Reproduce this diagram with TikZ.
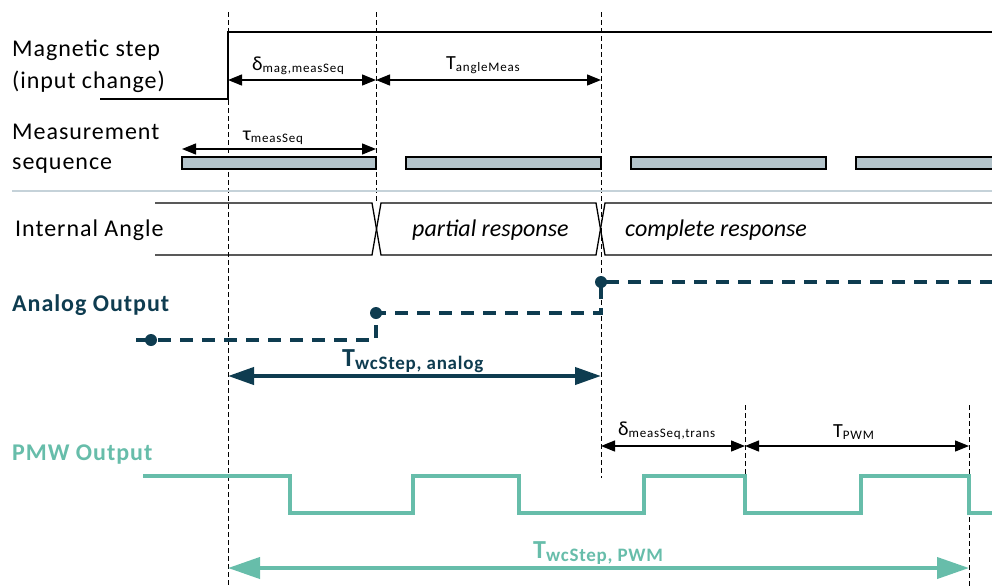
\documentclass[tikz,border=0pt]{standalone}
\usepackage{fontspec}
\setmainfont{Carlito}
\usetikzlibrary{arrows.meta}
\definecolor{analogcol}{RGB}{14,60,80}
\definecolor{pwmcol}{RGB}{103,189,170}
\definecolor{barcol}{RGB}{180,196,203}
\definecolor{sepcol}{RGB}{197,210,217}
\newcommand{\lowidx}[1]{\raisebox{-0.3ex}{\fontsize{13}{13}\selectfont\addfontfeatures{LetterSpace=6}#1}}
\newcommand{\boldidx}[1]{\raisebox{-0.3ex}{\fontsize{19}{19}\selectfont\bfseries\addfontfeatures{LetterSpace=4}#1}}
\tikzset{
  marker/.style={dash pattern=on 5pt off 3pt, line width=0.9pt},
  span/.style={{Triangle[length=14pt,width=11pt]}-{Triangle[length=14pt,width=11pt]}, line width=1.3pt},
  lbl/.style={anchor=base west, inner sep=0pt, font=\fontsize{24}{24}\selectfont\addfontfeatures{LetterSpace=4}},
  spanlbl/.style={anchor=base west, inner sep=0pt, font=\fontsize{20}{20}\selectfont},
  seqbar/.style={draw, fill=barcol, line width=1.3pt},
  analogline/.style={analogcol, line width=3.3pt, dash pattern=on 13pt off 9pt},
  analogdot/.style={circle, fill=analogcol, inner sep=0pt, minimum size=12pt},
  pwmline/.style={pwmcol, line width=3.3pt}
}
\begin{document}
\begin{tikzpicture}[x=1pt, y=-1pt]
      \useasboundingbox (0,0) rectangle (992,587);

      \draw[marker] (228,12) to (228,587);
      \draw[marker] (376,12) to (376,203);
      \draw[marker] (601,12) to (601,478);
      \draw[marker] (745,405) to (745,478);
      \draw[marker] (969,405) to (969,587);

      \node[lbl] (magA) at (12,56) {Magnetic step};
      \node[lbl] (magB) at (12,88) {(input change)};
      \draw[line width=2.6pt] (100,99) -- (228,99) -- (228,32) -- (992,32);
      \draw[span] (228,80) to (376,80);
      \node[spanlbl] (dmag) at (252,70) {δ\lowidx{mag,measSeq}};
      \draw[span] (376,80) to (601,80);
      \node[spanlbl] (tang) at (446,69) {T\lowidx{angleMeas}};

      \node[lbl] (seqA) at (12,139) {Measurement};
      \node[lbl] (seqB) at (12,169) {sequence};
      \draw[span] (182,149) to (376,149);
      \node[spanlbl] (tau) at (243,140) {τ\lowidx{measSeq}};
      \draw[seqbar] (182,157) rectangle (376,169);
      \draw[seqbar] (406,157) rectangle (601,169);
      \draw[seqbar] (631,157) rectangle (826,169);
      \draw[seqbar] (856,157) rectangle (995,169);

      \draw[sepcol, line width=2pt] (12,191) to (992,191);

      \node[lbl] (angle) at (15,236) {Internal Angle};
      \draw[line width=1.3pt] (155,203) -- (372,203) -- (381,255) -- (596,255) -- (605,203) -- (992,203);
      \draw[line width=1.3pt] (155,255) -- (372,255) -- (381,203) -- (596,203) -- (605,255) -- (992,255);
      \node[lbl, font=\fontsize{24}{24}\selectfont\itshape] (part) at (412,236) {partial response};
      \node[lbl, font=\fontsize{24}{24}\selectfont\itshape] (compl) at (625,236) {complete response};

      \node[lbl, font=\fontsize{24}{24}\selectfont\bfseries\addfontfeatures{LetterSpace=4}, text=analogcol] (analog) at (12,311) {Analog Output};
      \draw[analogline] (136,340) -- (376,340) -- (376,313) -- (601,313) -- (601,282) -- (992,282);
      \node[analogdot] (a1) at (151,340) {};
      \node[analogdot] (a2) at (376,313) {};
      \node[analogdot] (a3) at (601,282) {};
      \draw[analogcol, line width=4pt, {Triangle[length=26pt,width=17pt]}-{Triangle[length=26pt,width=17pt]}] (228,376) to (601,376);
      \node[anchor=base west, inner sep=0pt, text=analogcol, font=\fontsize{26}{26}\selectfont\bfseries] (twca) at (342,366) {T\boldidx{wcStep, analog}};

      \node[lbl, font=\fontsize{24}{24}\selectfont\bfseries\addfontfeatures{LetterSpace=4}, text=pwmcol] (pwm) at (12,460) {PMW Output};
      \draw[span] (601,446) to (745,446);
      \node[spanlbl] (dtrans) at (618,435) {δ\lowidx{measSeq,trans}};
      \draw[span] (745,446) to (969,446);
      \node[spanlbl] (tpwm) at (833,437) {T\lowidx{PWM}};
      \draw[pwmline] (143,476) -- (290,476) -- (290,513) -- (413,513) -- (413,476) -- (519,476) -- (519,513) -- (644,513) -- (644,476) -- (745,476) -- (745,513) -- (861,513) -- (861,476) -- (969,476) -- (969,513) -- (995,513);
      \draw[pwmcol, line width=4pt, {Triangle[length=32pt,width=21pt]}-{Triangle[length=32pt,width=21pt]}] (228,568) to (969,568);
      \node[anchor=base west, inner sep=0pt, text=pwmcol, font=\fontsize{26}{26}\selectfont\bfseries] (twcp) at (533,558) {T\boldidx{wcStep, PWM}};

    \end{tikzpicture}
\end{document}
